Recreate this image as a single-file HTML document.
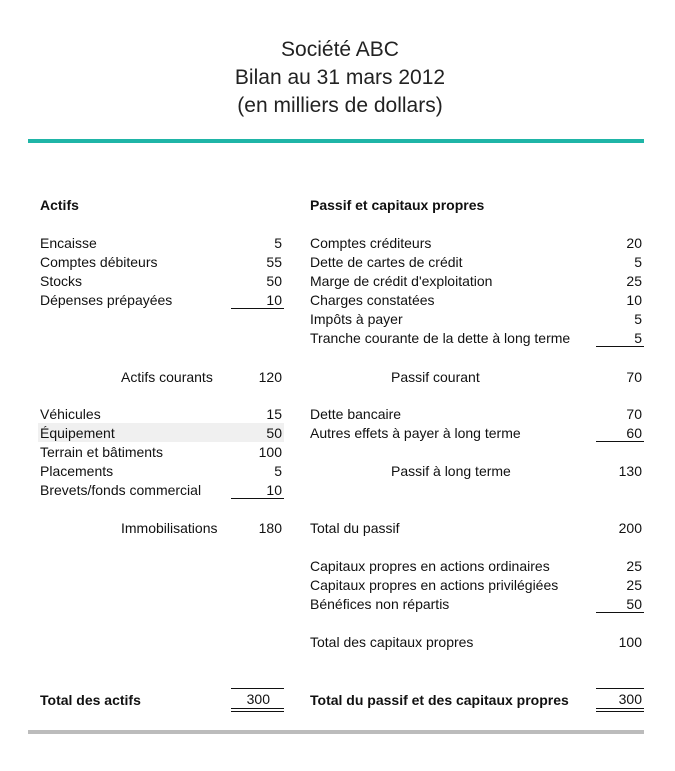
<!DOCTYPE html>
<html><head><meta charset="utf-8"><style>
body{margin:0;width:675px;height:771px;background:#fff;position:relative;font-family:"Liberation Sans",sans-serif;color:#111;overflow:hidden}
.t{position:absolute;left:0;width:680px;text-align:center;font-size:21px;line-height:28px;color:#222}
.l,.r{position:absolute;font-size:14px;line-height:18px;white-space:nowrap;margin-top:1px}
.r{text-align:right}
.b{font-weight:bold}
.ln{position:absolute;height:0;border-top:1px solid #111}
</style></head><body>
<div class="t" style="top:36px">Société ABC<br>Bilan au 31 mars 2012<br>(en milliers de dollars)</div>
<div style="position:absolute;left:28px;top:139px;width:616px;height:4px;background:#1fb5a7"></div>
<div style="position:absolute;left:28px;top:730px;width:616px;height:4px;background:#bcbcbc"></div>
<div style="position:absolute;left:38px;top:423px;width:246px;height:19px;background:#f0f0f0"></div>

<div class="l b" style="left:40px;top:195px">Actifs</div>
<div class="l b" style="left:310px;top:195px">Passif et capitaux propres</div>

<div class="l" style="left:40px;top:233px">Encaisse</div><div class="r" style="right:393px;top:233px">5</div>
<div class="l" style="left:40px;top:252px">Comptes débiteurs</div><div class="r" style="right:393px;top:252px">55</div>
<div class="l" style="left:40px;top:271px">Stocks</div><div class="r" style="right:393px;top:271px">50</div>
<div class="l" style="left:40px;top:290px">Dépenses prépayées</div><div class="r" style="right:393px;top:290px">10</div>
<div class="ln" style="left:231px;top:308px;width:53px"></div>
<div class="l" style="left:121px;top:367px">Actifs courants</div><div class="r" style="right:393px;top:367px">120</div>
<div class="l" style="left:40px;top:404px">Véhicules</div><div class="r" style="right:393px;top:404px">15</div>
<div class="l" style="left:40px;top:423px">Équipement</div><div class="r" style="right:393px;top:423px">50</div>
<div class="l" style="left:40px;top:442px">Terrain et bâtiments</div><div class="r" style="right:393px;top:442px">100</div>
<div class="l" style="left:40px;top:461px">Placements</div><div class="r" style="right:393px;top:461px">5</div>
<div class="l" style="left:40px;top:480px">Brevets/fonds commercial</div><div class="r" style="right:393px;top:480px">10</div>
<div class="ln" style="left:231px;top:498px;width:53px"></div>
<div class="l" style="left:121px;top:518px">Immobilisations</div><div class="r" style="right:393px;top:518px">180</div>
<div class="l b" style="left:40px;top:690px">Total des actifs</div><div class="r" style="right:405px;top:689px">300</div>
<div class="ln" style="left:231px;top:688px;width:53px"></div>
<div class="ln" style="left:231px;top:708px;width:53px"></div>
<div class="ln" style="left:231px;top:711px;width:53px"></div>

<div class="l" style="left:310px;top:233px">Comptes créditeurs</div><div class="r" style="right:33px;top:233px">20</div>
<div class="l" style="left:310px;top:252px">Dette de cartes de crédit</div><div class="r" style="right:33px;top:252px">5</div>
<div class="l" style="left:310px;top:271px">Marge de crédit d'exploitation</div><div class="r" style="right:33px;top:271px">25</div>
<div class="l" style="left:310px;top:290px">Charges constatées</div><div class="r" style="right:33px;top:290px">10</div>
<div class="l" style="left:310px;top:309px">Impôts à payer</div><div class="r" style="right:33px;top:309px">5</div>
<div class="l" style="left:310px;top:328px">Tranche courante de la dette à long terme</div><div class="r" style="right:33px;top:328px">5</div>
<div class="ln" style="left:596px;top:346px;width:48px"></div>
<div class="l" style="left:391px;top:367px">Passif courant</div><div class="r" style="right:33px;top:367px">70</div>
<div class="l" style="left:310px;top:404px">Dette bancaire</div><div class="r" style="right:33px;top:404px">70</div>
<div class="l" style="left:310px;top:423px">Autres effets à payer à long terme</div><div class="r" style="right:33px;top:423px">60</div>
<div class="ln" style="left:596px;top:441px;width:48px"></div>
<div class="l" style="left:391px;top:461px">Passif à long terme</div><div class="r" style="right:33px;top:461px">130</div>
<div class="l" style="left:310px;top:518px">Total du passif</div><div class="r" style="right:33px;top:518px">200</div>
<div class="l" style="left:310px;top:556px">Capitaux propres en actions ordinaires</div><div class="r" style="right:33px;top:556px">25</div>
<div class="l" style="left:310px;top:575px">Capitaux propres en actions privilégiées</div><div class="r" style="right:33px;top:575px">25</div>
<div class="l" style="left:310px;top:594px">Bénéfices non répartis</div><div class="r" style="right:33px;top:594px">50</div>
<div class="ln" style="left:596px;top:612px;width:48px"></div>
<div class="l" style="left:310px;top:632px">Total des capitaux propres</div><div class="r" style="right:33px;top:632px">100</div>
<div class="l b" style="left:310px;top:690px">Total du passif et des capitaux propres</div><div class="r" style="right:33px;top:689px">300</div>
<div class="ln" style="left:596px;top:688px;width:48px"></div>
<div class="ln" style="left:596px;top:708px;width:48px"></div>
<div class="ln" style="left:596px;top:711px;width:48px"></div>
</body></html>
